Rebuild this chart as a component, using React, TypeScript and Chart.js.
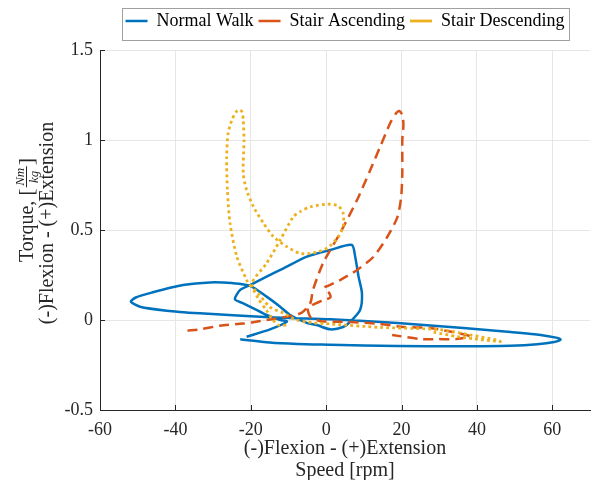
import React, { useEffect, useRef } from 'react';
import { Chart, registerables } from 'chart.js';

Chart.register(...registerables);

const FONT = '"Liberation Serif", "Times New Roman", serif';

const legendLabels = ['Normal Walk', 'Stair Ascending', 'Stair Descending'];
const xTitle = ['(-)Flexion - (+)Extension', 'Speed [rpm]'];
const yTitleLine2 = '(-)Flexion - (+)Extension';

const xMin = -60, xMax = 70, xStep = 20;
const yMin = -0.5, yMax = 1.5, yStep = 0.5;

// Normal Walk
const walkSpeed = [
  -22.8, -15, -7.7, 1.1, 18.9, 35, 48.9, 56, 60.5, 62.2, 61, 56.9, 48.9, 36.4, 18.9, 1.1,
  -9.6, -17.5, -24.7, -33.5, -42.3, -49.4, -51.8, -50.5, -46.3, -38, -30.8, -25, -20.2,
  -15.8, -12.2, -9.6, -5.0, -2.5, 1.1, 4.5, 6.4, 9.0, 9.5, 8.6, 7.7, 6.8,
  1.1, -5.1, -11.3, -15.8, -20.2, -22.8, -24.2, -22, -19.3, -15.8, -12.2, -10.4,
  -14.9, -21.1,
];
const walkTorque = [
  -0.107, -0.125, -0.133, -0.137, -0.145, -0.146, -0.143, -0.135, -0.122, -0.108, -0.098, -0.083, -0.067, -0.044, -0.017, 0.004,
  0.011, 0.018, 0.026, 0.037, 0.052, 0.074, 0.102, 0.125, 0.152, 0.194, 0.209, 0.205, 0.19,
  0.13, 0.074, 0.028, -0.017, -0.028, -0.052, -0.039, -0.009, 0.056, 0.148, 0.241, 0.352, 0.417,
  0.389, 0.352, 0.287, 0.241, 0.194, 0.167, 0.115, 0.093, 0.065, 0.028, 0.0, -0.009,
  -0.052, -0.093,
];

// Stair Ascending
const ascSpeed = [
  -36.8, -33.5, -28.2, -22, -17.5, -12.2, -8.8, -6.5, -4.2, -3.5, -0.8, 3.7, 8.2, 11.7, 14.3,
  17.0, 18.6, 19.4, 20.2, 20.5, 20.2, 20.2, 19.9, 18.9, 16.2, 12.5, 8.2, 3.7, 0.5, -0.5, 0.8,
  1.1, -0.8, -4.8, -4.2, -2.5, -1.1, 6.4, 14.3, 20.5, 27.6, 32.1, 38.2, 34.5, 29.5, 25, 17.5,
];
const ascTorque = [
  -0.059, -0.052, -0.032, -0.02, -0.006, 0.012, 0.025, 0.04, 0.094, 0.167, 0.317, 0.483, 0.667, 0.833, 0.961,
  1.094, 1.15, 1.161, 1.139, 1.083, 1.0, 0.817, 0.683, 0.572, 0.461, 0.35, 0.278, 0.222, 0.19, 0.18, 0.15,
  0.125, 0.11, 0.067, 0.017, 0.0, -0.008, -0.011, -0.022, -0.039, -0.044, -0.061, -0.091, -0.106, -0.106, -0.106, -0.083,
];

// Stair Descending
const descSpeed = [
  28.5, 34.7, 39.1, 43.6, 46.2, 45.3, 38.2, 32, 27.6, 14.3, 1.1, -3.4, -7.8, -11.4, -14.9, -18.1,
  -20.5, -21.1, -23.7, -25.5, -26.2, -26.4, -26.0, -25.0, -23.9, -23.0, -22.3, -22.0, -21.8,
  -22.0, -21.1, -19.3, -16.6, -14.0, -10.4, -6.9, -3.5, 0.3, 3.2, 4.5, 4.5, 3.2, 0.3, -4.2,
  -6.9, -8.7, -12.2, -15.8, -19.7, -18.1, -15.9, -14.1, -12.7, -10.1,
];
const descTorque = [
  -0.068, -0.092, -0.104, -0.115, -0.12, -0.111, -0.083, -0.058, -0.05, -0.041, -0.022, -0.015, 0.0, 0.039, 0.072, 0.15,
  0.2, 0.222, 0.352, 0.537, 0.722, 0.907, 1.039, 1.111, 1.156, 1.167, 1.156, 1.111, 1.0,
  0.815, 0.722, 0.63, 0.537, 0.463, 0.407, 0.37, 0.372, 0.4, 0.461, 0.517, 0.594, 0.633, 0.644, 0.628,
  0.602, 0.574, 0.444, 0.315, 0.204, 0.122, 0.056, 0.0, -0.028, -0.028,
];

function toPoints(xs: number[], ys: number[]) {
  return xs.map((x, i) => ({ x, y: ys[i] }));
}

const decor = {
  id: 'decor',
  beforeInit(chart: any) {
    const lg = chart.legend;
    if (lg) {
      const f = lg.fit;
      lg.fit = function () {
        f.call(this);
        this.height = 43;
      };
    }
  },
  afterDraw(chart: any) {
    const ctx = chart.ctx as CanvasRenderingContext2D;
    const { left, bottom } = chart.chartArea;
    const xs = chart.scales.x;
    const ys = chart.scales.y;
    ctx.save();
    // inward ticks
    ctx.strokeStyle = '#262626';
    ctx.lineWidth = 1;
    ctx.beginPath();
    xs.ticks.forEach((t: any) => {
      const px = Math.round(xs.getPixelForValue(t.value)) + 0.5;
      ctx.moveTo(px, bottom);
      ctx.lineTo(px, bottom - 5);
    });
    ys.ticks.forEach((t: any) => {
      const py = Math.round(ys.getPixelForValue(t.value)) + 0.5;
      ctx.moveTo(left, py);
      ctx.lineTo(left + 5, py);
    });
    ctx.stroke();

    // legend frame
    const boxes = chart.legend && chart.legend.legendHitBoxes;
    if (boxes && boxes.length) {
      const l = boxes[0].left - 4;
      const last = boxes[boxes.length - 1];
      const r = last.left + last.width + 4;
      ctx.strokeStyle = '#a0a0a0';
      ctx.lineWidth = 1;
      ctx.strokeRect(Math.round(l) + 0.5, 8.5, Math.round(r - l), 32);
    }

    // y title
    ctx.fillStyle = '#262626';
    ctx.textBaseline = 'middle';
    ctx.textAlign = 'center';
    ctx.save();
    ctx.translate(48, 223);
    ctx.rotate(-Math.PI / 2);
    ctx.font = '20px ' + FONT;
    ctx.fillText(yTitleLine2, 0, 0);
    ctx.restore();

    ctx.save();
    ctx.translate(27, 210);
    ctx.rotate(-Math.PI / 2);
    const mainTxt = 'Torque, ';
    ctx.font = '20px ' + FONT;
    const wMain = ctx.measureText(mainTxt).width;
    ctx.font = '22px ' + FONT;
    const wOpen = ctx.measureText('[').width;
    const wClose = ctx.measureText(']').width;
    ctx.font = 'italic 13px ' + FONT;
    const wNum = ctx.measureText('Nm').width;
    const wDen = ctx.measureText('kg').width;
    const wFrac = Math.max(wNum, wDen) + 3;
    const total = wMain + wOpen + wFrac + wClose + 2;
    let x = -total / 2;
    ctx.textAlign = 'left';
    ctx.font = '20px ' + FONT;
    ctx.textBaseline = 'middle';
    ctx.fillText(mainTxt, x, 1);
    x += wMain;
    ctx.font = '22px ' + FONT;
    ctx.fillText('[', x, 0);
    x += wOpen + 1;
    ctx.strokeStyle = '#262626';
    ctx.lineWidth = 1;
    ctx.beginPath();
    ctx.moveTo(x, -0.5);
    ctx.lineTo(x + wFrac, -0.5);
    ctx.stroke();
    ctx.font = 'italic 13px ' + FONT;
    ctx.textAlign = 'center';
    ctx.textBaseline = 'alphabetic';
    ctx.fillText('Nm', x + wFrac / 2, -3);
    ctx.textBaseline = 'top';
    ctx.fillText('kg', x + wFrac / 2, 1);
    x += wFrac + 1;
    ctx.textAlign = 'left';
    ctx.textBaseline = 'middle';
    ctx.font = '22px ' + FONT;
    ctx.fillText(']', x, 0);
    ctx.restore();

    ctx.restore();
  },
};

export default function App() {
  const ref = useRef<HTMLCanvasElement | null>(null);

  useEffect(() => {
    document.body.style.margin = '0';
    const canvas = ref.current;
    if (!canvas) return;
    const common = { showLine: true, pointRadius: 0, pointHoverRadius: 0, borderWidth: 2.5, tension: 0.25, fill: false };
    const chart = new Chart(canvas, {
      type: 'scatter',
      data: {
        datasets: [
          {
            ...common,
            label: legendLabels[0],
            data: toPoints(walkSpeed, walkTorque),
            borderColor: '#0072BD',
            backgroundColor: '#0072BD',
            order: 2,
          },
          {
            ...common,
            label: legendLabels[1],
            data: toPoints(ascSpeed, ascTorque),
            borderColor: '#D95319',
            backgroundColor: '#D95319',
            borderDash: [10, 6],
            order: 1,
          },
          {
            ...common,
            label: legendLabels[2],
            data: toPoints(descSpeed, descTorque),
            borderColor: '#EDB120',
            backgroundColor: '#EDB120',
            borderWidth: 2.8,
            borderDash: [2.8, 3.2],
            order: 0,
          },
        ] as any,
      },
      options: {
        animation: false,
        responsive: false,
        devicePixelRatio: 1,
        layout: { padding: { top: 7, right: 2, bottom: 0, left: 0 } },
        plugins: {
          tooltip: { enabled: false },
          legend: {
            position: 'top',
            fullSize: false,
            labels: {
              usePointStyle: true,
              pointStyle: 'line',
              pointStyleWidth: 22,
              padding: 5,
              color: '#000',
              font: { family: FONT, size: 18 },
              sort: (a: any, b: any) => a.datasetIndex - b.datasetIndex,
            },
          },
        },
        scales: {
          x: {
            type: 'linear',
            min: xMin,
            max: xMax,
            afterFit: (s: any) => {
              s.height = 70;
            },
            ticks: {
              stepSize: xStep,
              includeBounds: false,
              padding: 9,
              color: '#262626',
              font: { family: FONT, size: 18 },
              maxRotation: 0,
              autoSkip: false,
              callback: (v: any) => String(Number(v)),
            },
            grid: { color: '#e6e6e6', drawTicks: false },
            border: { display: true, color: '#262626', width: 1 },
            title: {
              display: true,
              text: xTitle,
              color: '#262626',
              font: { family: FONT, size: 20, lineHeight: 1.1 },
              padding: { top: 0, bottom: -2 },
            },
          },
          y: {
            type: 'linear',
            min: yMin,
            max: yMax,
            afterFit: (s: any) => {
              s.width = 100;
            },
            ticks: {
              stepSize: yStep,
              padding: 7,
              color: '#262626',
              font: { family: FONT, size: 18 },
              autoSkip: false,
              callback: (v: any) => String(Number(v)),
            },
            grid: { color: '#e6e6e6', drawTicks: false },
            border: { display: true, color: '#262626', width: 1 },
          },
        },
      } as any,
      plugins: [decor],
    });
    return () => chart.destroy();
  }, []);

  return (
    <div style={{ width: 592, height: 480 }}>
      <canvas ref={ref} width={592} height={480} style={{ display: 'block' }} />
    </div>
  );
}
